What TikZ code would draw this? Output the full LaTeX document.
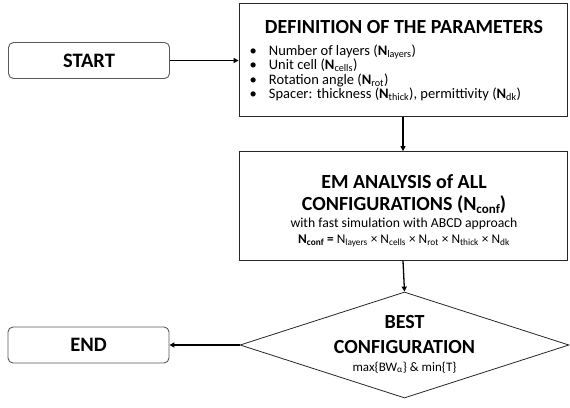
\documentclass[tikz,border=0pt]{standalone}
\usepackage{fontspec}
\setmainfont{Carlito}
\usetikzlibrary{shapes.geometric,arrows.meta}
\newcommand{\tsub}[1]{\raisebox{-3pt}{\fontsize{13}{13}\selectfont #1}}
\begin{document}
\begin{tikzpicture}[x=1pt,y=-1pt,
  term/.style={draw=black!65, line width=0.9pt, rounded corners=5pt, minimum width=161pt, minimum height=36pt, inner sep=0pt, font=\fontsize{20.5}{22}\selectfont\bfseries},
  proc/.style={draw=black!85, line width=0.8pt, minimum width=328pt, inner sep=0pt},
  dec/.style={diamond, draw=black!85, line width=0.8pt, minimum width=329pt, minimum height=106pt, inner sep=0pt, shape aspect=3},
  bigtxt/.style={inner sep=0pt, anchor=base, font=\fontsize{20}{22}\selectfont\bfseries},
  midtxt/.style={inner sep=0pt, anchor=base, font=\fontsize{13.7}{15}\selectfont},
  conn/.style={line width=1.3pt, -{Triangle[length=5pt,width=5pt]}},
]
\useasboundingbox (0,0) rectangle (570,407);
% START / END
\node[term] (start) at (89,60.5) {START};
\node[term] (end) at (88.5,345) {END};
% Definition box
\node[proc, minimum height=113pt] (def) at (403,60) {};
\node[bigtxt] (deftitle) at (404,33.4) {DEFINITION OF THE PARAMETERS};
\node[anchor=north west, inner sep=0pt, font=\fontsize{14.5}{12.4}\selectfont] (deflist) at (249.5,44.5) {%
\begin{tabular}{@{}l@{\hspace{12pt}}l@{}}
\textbullet & Number of layers (\textbf{N}\textsubscript{layers})\\
\textbullet & Unit cell (\textbf{N}\textsubscript{cells})\\
\textbullet & Rotation angle (\textbf{N}\textsubscript{rot})\\
\textbullet & Spacer: thickness (\textbf{N}\textsubscript{thick}), permittivity (\textbf{N}\textsubscript{dk})
\end{tabular}};
% EM analysis box
\node[proc, minimum height=109pt] (em) at (403,206) {};
\node[bigtxt] (emt1) at (404,188.4) {EM ANALYSIS of ALL};
\node[bigtxt] (emt2) at (404,210.4) {CONFIGURATIONS (N\tsub{conf})};
\node[midtxt] (emt3) at (404,227) {with fast simulation with ABCD approach};
\node[midtxt, font=\fontsize{13.3}{15}\selectfont] (emt4) at (404,243.5) {\textbf{N\textsubscript{conf} =} N\textsubscript{layers} × N\textsubscript{cells} × N\textsubscript{rot} × N\textsubscript{thick} × N\textsubscript{dk}};
% Decision
\node[dec] (best) at (404.5,345) {};
\node[bigtxt] (bt1) at (404.5,328.4) {BEST};
\node[bigtxt] (bt2) at (404.5,353.4) {CONFIGURATION};
\node[midtxt, font=\fontsize{13}{15}\selectfont] (bt3) at (404.5,371) {max\{BW\textsubscript{α}\} \& min\{T\}};
% connectors
\draw[conn] (start.east) -- (start.east -| def.west);
\draw[conn] (def.south) -- (em.north);
\draw[conn] (em.south) -- (best.north);
\draw[conn] (best.west) -- (end.east);
\end{tikzpicture}
\end{document}
